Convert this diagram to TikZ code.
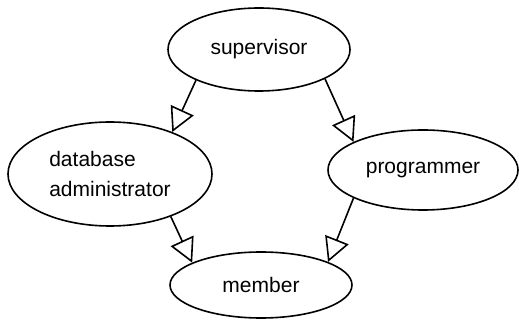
\documentclass[tikz,border=0pt]{standalone}
\usepackage{fontspec}
\setmainfont{Liberation Sans}
\usepackage{tikz}
\usetikzlibrary{shapes.geometric,arrows.meta}

\begin{document}
\begin{tikzpicture}[x=1pt,y=-1pt,
    role/.style={ellipse,draw,line width=1.6pt,inner sep=0pt,font=\fontsize{21}{30}\selectfont},
    isa/.style={line width=1.6pt,-{Triangle[open,length=24pt,width=25pt,line width=1.6pt]}}]
      \useasboundingbox (0,0) rectangle (519,320);
      \node [role,minimum width=182pt,minimum height=83pt] (S) at (259,49.5) {supervisor};
      \node [role,minimum width=204pt,minimum height=104pt,align=left] (D) at (110,174) {database\\administrator};
      \node [role,minimum width=190pt,minimum height=80pt] (P) at (423,170) {programmer};
      \node [role,minimum width=182pt,minimum height=66pt] (M) at (261,285) {member};
      \draw [isa] (S.206) to (D.34);
      \draw [isa] (S.-24) to (P.158);
      \draw [isa] (D.-35) to (M.162);
      \draw [isa] (P.202) to (M.19);
    \end{tikzpicture}
\end{document}
